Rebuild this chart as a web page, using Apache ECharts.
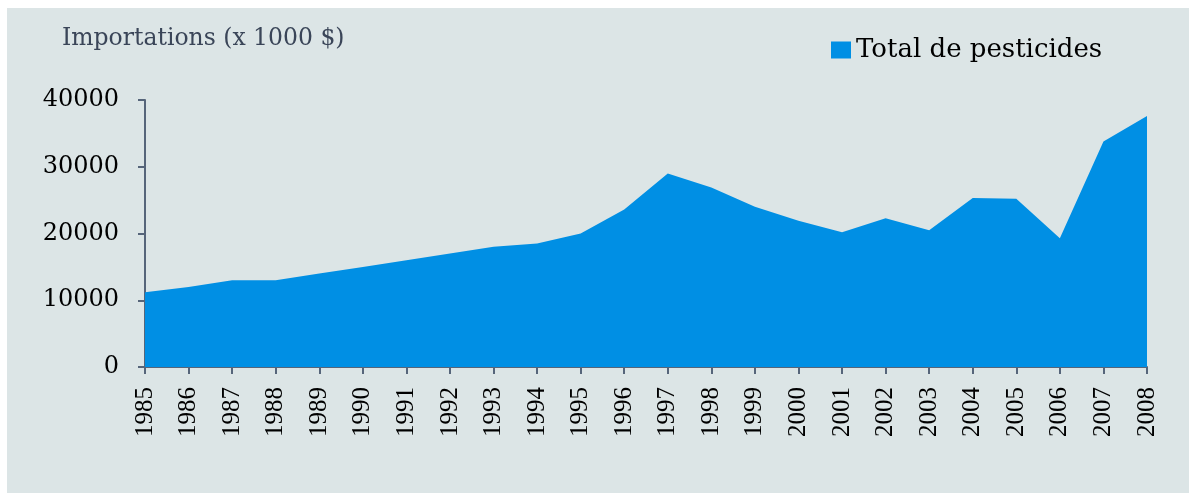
<!DOCTYPE html>
<html>
<head>
<meta charset="utf-8">
<script src="https://cdn.jsdelivr.net/npm/echarts@6/dist/echarts.min.js"></script>
<style>
  html, body { margin: 0; padding: 0; background: #fff; }
  #chart {
    position: absolute;
    left: 7px;
    top: 8px;
    width: 1182px;
    height: 485px;
    background: #dce5e6;
  }
</style>
</head>
<body>
<div id="chart"></div>
<script>
  // annees et importations (x 1000 $)
  const years = ['1985','1986','1987','1988','1989','1990','1991','1992','1993','1994','1995','1996',
                 '1997','1998','1999','2000','2001','2002','2003','2004','2005','2006','2007','2008'];
  const totalPesticides = [11200, 12000, 13000, 13000, 14000, 15000, 16000, 17000, 18000, 18500, 20000, 23600,
                           29000, 26900, 24000, 21900, 20200, 22300, 20500, 25300, 25200, 19300, 33800, 37600];
  const yTicks = [0, 10000, 20000, 30000, 40000];

  const wideSerif = '"DejaVu Serif", "Liberation Serif", serif';
  const narrowSerif = 'Liberation Serif';
  const axisColor = '#56657a';

  const myChart = echarts.init(document.getElementById('chart'));
  const option = {
    animation: false,
    title: {
      text: 'Importations (x 1000 $)',
      left: 50,
      top: 14,
      textStyle: { fontFamily: wideSerif, fontSize: 23.5, fontWeight: 'normal', color: '#3a4558' }
    },
    legend: {
      data: [{ name: 'Total de pesticides', icon: 'rect' }],
      left: 819,
      top: 24,
      itemWidth: 20,
      itemHeight: 17,
      itemGap: 9,
      textStyle: { fontFamily: wideSerif, fontSize: 26, color: '#000' }
    },
    grid: { left: 138, right: 42, top: 92, bottom: 126, outerBoundsMode: 'none' },
    xAxis: {
      type: 'category',
      data: years,
      boundaryGap: false,
      axisLine: { lineStyle: { color: axisColor, width: 2 } },
      axisTick: { alignWithLabel: true, length: 7, lineStyle: { color: axisColor, width: 2 } },
      axisLabel: { rotate: 90, interval: 0, margin: 20, fontFamily: narrowSerif, fontSize: 25, color: '#000' }
    },
    yAxis: {
      type: 'value',
      min: yTicks[0],
      max: yTicks[yTicks.length - 1],
      interval: 10000,
      axisLine: { show: true, lineStyle: { color: axisColor, width: 2 } },
      axisTick: { show: true, length: 7, lineStyle: { color: axisColor, width: 2 } },
      splitLine: { show: false },
      axisLabel: { margin: 26, fontFamily: wideSerif, fontSize: 24, color: '#000', formatter: (v) => String(v) }
    },
    series: [
      {
        name: 'Total de pesticides',
        type: 'line',
        data: totalPesticides,
        symbol: 'none',
        lineStyle: { width: 0, color: '#008fe4' },
        itemStyle: { color: '#008fe4' },
        areaStyle: { color: '#008fe4', opacity: 1 }
      }
    ]
  };
  myChart.setOption(option);
</script>
</body>
</html>
